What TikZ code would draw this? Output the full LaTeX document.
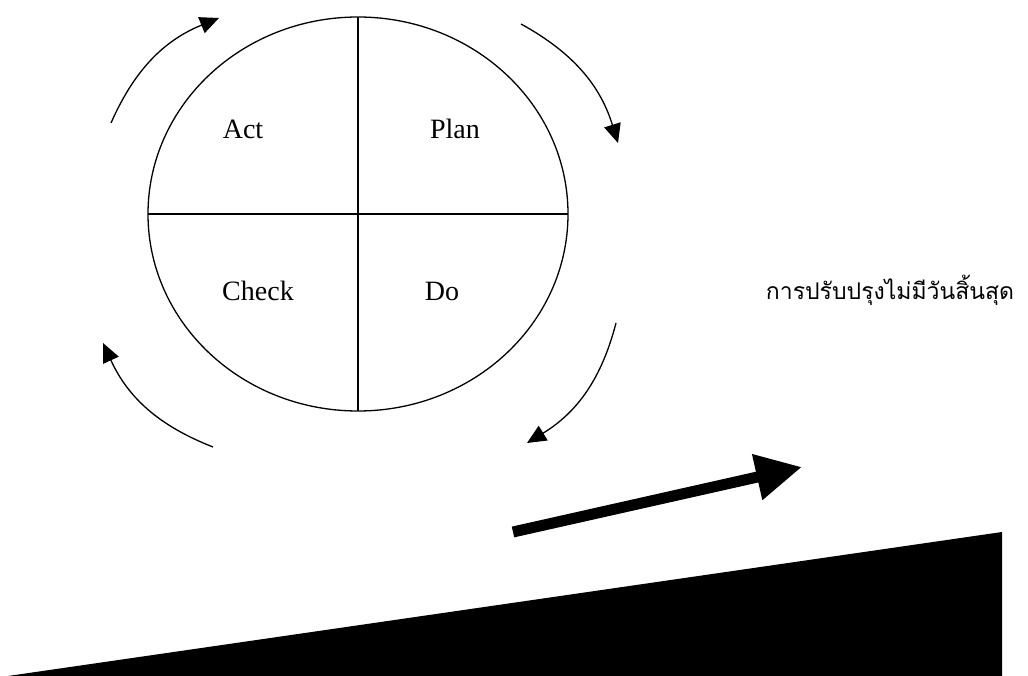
\documentclass[tikz,border=0pt]{standalone}
\usepackage{fontspec}
\setmainfont{Liberation Serif}
\newfontfamily\thaifont[Script=Thai]{Loma}
\usetikzlibrary{arrows.meta,shapes.geometric}
\tikzset{
  every node/.style={inner sep=0pt,outer sep=0pt},
  wheel/.style={draw,ellipse,line width=1.3pt,minimum width=420pt,minimum height=394pt},
  quad/.style={font=\fontsize{28}{30}\selectfont},
  turn/.style={line width=1.3pt,-{Triangle[length=19pt,width=17pt]}},
  push/.style={line width=11pt,-{Triangle[length=46pt,width=44pt]}},
}

\begin{document}
\begin{tikzpicture}[x=1pt,y=-1pt]

\path[use as bounding box] (0,0) rectangle (1028,676);
% PDCA wheel, split in four
\node[wheel] (pdca) at (358,214) {};
\draw[line width=1.3pt] (pdca.north) -- (pdca.south);
\draw[line width=1.3pt] (pdca.west) -- (pdca.east);
\node[quad] (act) at (243,129) {Act};
\node[quad] (plan) at (455,129) {Plan};
\node[quad] (check) at (258,291) {Check};
\node[quad] (do) at (442,291) {Do};

% arrows round the wheel, clockwise
\foreach \name/\x/\y in {a0/111/123,a1/219/18,b0/521/24,b1/618/143,
  c0/616/323,c1/527/443,d0/213/447,d1/103/343}
 \coordinate (\name) at (\x,\y);
\foreach \a/\b in {a0/a1,b0/b1,c0/c1,d0/d1}
 \draw[turn] (\a) to[bend left=22] (\b);

\node[font=\thaifont\fontsize{23}{27}\selectfont] (endless) at (890,290) {การปรับปรุงไม่มีวันสิ้นสุด};

% slope and the push up it
\coordinate (s0) at (8,676);
\coordinate (s1) at (1002,532);
\coordinate (s2) at (1002,676);
\fill (s0) -- (s1) -- (s2) -- cycle;
\coordinate (p0) at (513,532);
\coordinate (p1) at (802,467);
\draw[push] (p0) -- (p1);
\end{tikzpicture}
\end{document}
